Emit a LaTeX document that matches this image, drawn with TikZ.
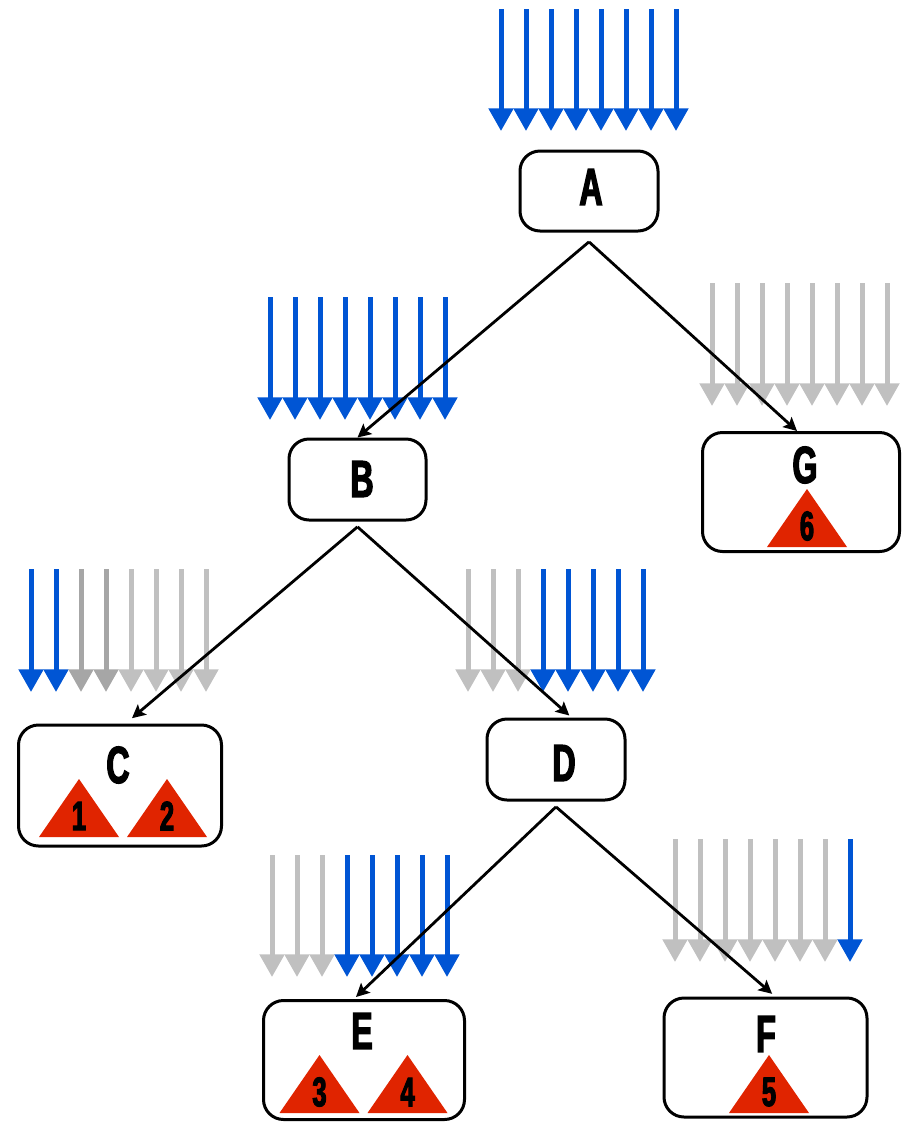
\documentclass[tikz,border=0pt]{standalone}
\usepackage{fontspec}
\newfontfamily\condfont[FakeStretch=0.62, BoldFeatures={FakeBold=2.5}]{Liberation Sans}
\usetikzlibrary{arrows.meta}
\definecolor{flowblue}{RGB}{0,85,212}
\definecolor{flowgray}{RGB}{192,192,192}
\definecolor{flowdark}{RGB}{166,166,166}
\definecolor{leafred}{RGB}{224,36,0}

\tikzset{
  treebox/.style={draw, line width=2.25pt, rounded corners=15pt, fill=white, inner sep=0pt},
  letter/.style={font=\condfont\bfseries\fontsize{39pt}{39pt}\selectfont, inner sep=0pt},
  digit/.style={font=\condfont\bfseries\fontsize{31pt}{31pt}\selectfont, inner sep=0pt},
  flow/.style={line width=3.75pt, -{Triangle[length=17pt,width=18pt]}},
  edge/.style={line width=2.1pt, -{Stealth[length=10pt,width=10pt,inset=2pt]}}
}

% a row of eight falling arrows
\newcommand{\flowrow}[4]{%
  \foreach \c [count=\i from 0] in {#4}
    \draw[flow,\c] ({#1+25*\i},#2) -- ({#1+25*\i},#3);}

% red triangle with its number, base centre at (#2,#3)
\newcommand{\leafnode}[4]{%
  \fill[leafred] ({#2-40},#3) -- (#2,{#3-58}) -- ({#2+40},#3) -- cycle;
  \node[digit] (#1) at (#2,{#3-21}) {#4};}

\begin{document}
\begin{tikzpicture}[x=0.75pt, y=-0.75pt]
\useasboundingbox (0,0) rectangle (903,1122);

% Arrow rows
\flowrow{501}{9}{131}{flowblue,flowblue,flowblue,flowblue,flowblue,flowblue,flowblue,flowblue}
\flowrow{270}{297}{420}{flowblue,flowblue,flowblue,flowblue,flowblue,flowblue,flowblue,flowblue}
\flowrow{712}{283}{406}{flowgray,flowgray,flowgray,flowgray,flowgray,flowgray,flowgray,flowgray}
\flowrow{31}{569}{692}{flowblue,flowblue,flowdark,flowdark,flowgray,flowgray,flowgray,flowgray}
\flowrow{468}{569}{692}{flowgray,flowgray,flowgray,flowblue,flowblue,flowblue,flowblue,flowblue}
\flowrow{272}{855}{977}{flowgray,flowgray,flowgray,flowblue,flowblue,flowblue,flowblue,flowblue}
\flowrow{675}{839}{962}{flowgray,flowgray,flowgray,flowgray,flowgray,flowgray,flowgray,flowblue}

% Boxes
\node[treebox, minimum width=103.5pt, minimum height=60pt] (A) at (589,191) {};
\node[treebox, minimum width=102.75pt, minimum height=60.75pt] (B) at (357.5,479.5) {};
\node[treebox, minimum width=147.75pt, minimum height=89.25pt] (G) at (801,492) {};
\node[treebox, minimum width=152.25pt, minimum height=90.75pt] (C) at (120,785.5) {};
\node[treebox, minimum width=103.5pt, minimum height=60.75pt] (D) at (556,759.5) {};
\node[treebox, minimum width=150.75pt, minimum height=89.25pt] (E) at (364,1060) {};
\node[treebox, minimum width=152.25pt, minimum height=89.25pt] (F) at (765.5,1057.5) {};

% Labels
\node[letter] (Alabel) at (591,187) {A};
\node[letter] (Blabel) at (362,479) {B};
\node[letter] (Glabel) at (805,465) {G};
\node[letter] (Clabel) at (118,765) {C};
\node[letter] (Dlabel) at (564,763) {D};
\node[letter] (Elabel) at (362,1031) {E};
\node[letter] (Flabel) at (766,1034) {F};

% Leaves
\leafnode{leafone}{79}{837}{1}
\leafnode{leaftwo}{167}{837}{2}
\leafnode{leafthree}{319.5}{1113}{3}
\leafnode{leaffour}{407.5}{1113}{4}
\leafnode{leaffive}{769}{1113}{5}
\leafnode{leafsix}{807}{547}{6}

% Tree edges
\draw[edge] ([yshift=-7pt]A.south) -- (B.north);
\draw[edge] ([yshift=-7pt]A.south) -- ([xshift=-3pt]G.north);
\draw[edge] ([yshift=-4pt]B.south) -- ([xshift=9pt,yshift=4pt]C.north);
\draw[edge] ([yshift=-4pt]B.south) -- ([xshift=10pt,yshift=1.5pt]D.north);
\draw[edge] ([yshift=-4pt]D.south) -- ([xshift=-6pt,yshift=1.5pt]E.north);
\draw[edge] ([yshift=-4pt]D.south) -- ([xshift=5pt,yshift=2pt]F.north);
\end{tikzpicture}
\end{document}
